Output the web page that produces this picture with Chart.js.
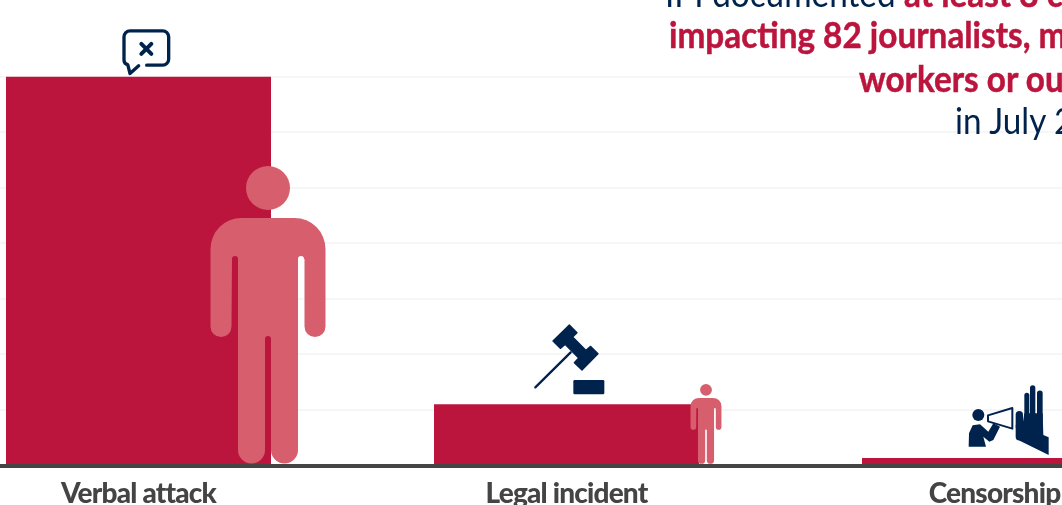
<!DOCTYPE html>
<html>
<head>
<meta charset="utf-8">
<script src="https://cdn.jsdelivr.net/npm/chart.js@4"></script>
<style>
html,body{margin:0;padding:0;width:1062px;height:505px;overflow:hidden;background:#fff}
#wrap{position:absolute;left:-100px;top:0;width:1500px;height:505px}
.ln{position:absolute;white-space:nowrap;font:400 36px Lato,sans-serif;color:#00234d;line-height:43px;transform:scaleX(.925);transform-origin:left center}
.ln b{font-weight:700;color:#bb153d;-webkit-text-stroke:.5px #bb153d}
</style>
</head>
<body>
<div id="wrap"><canvas id="c" width="1500" height="505"></canvas></div>
<div class="ln" style="left:665px;top:-28px">IPI documented <b>at least 8 cases</b></div>
<div class="ln" style="left:669px;top:13px"><b>impacting 82 journalists, media</b></div>
<div class="ln" style="left:859px;top:57px"><b>workers or outlets</b></div>
<div class="ln" style="left:955px;top:99px">in July 2022</div>
<script>
const categories = ['Verbal attack', 'Legal incident', 'Censorship'];
const incidents = [70, 11, 1];
const yTicksMax = 70;
const yTickStep = 10;

const RED = '#bb153d', FIG = '#d75e6c', NAVY = '#00234d';

function bubble(ctx){ // zoom coordinates
  ctx.translate(-138.5,-76); ctx.scale(1/3,1/3);
  ctx.lineWidth=10; ctx.strokeStyle=NAVY; ctx.lineCap='round'; ctx.lineJoin='round';
  ctx.beginPath();
  ctx.moveTo(440,194); ctx.lineTo(488,194); ctx.arcTo(506,194,506,176,18);
  ctx.lineTo(506,110); ctx.arcTo(506,91,488,91,18); ctx.lineTo(390,91);
  ctx.arcTo(372,91,372,110,18); ctx.lineTo(372,176); ctx.arcTo(372,190,382,192,14);
  ctx.lineTo(390,219); ctx.lineTo(416,196); ctx.stroke();
  ctx.lineWidth=12; ctx.beginPath();
  ctx.moveTo(424,130); ctx.lineTo(454,160); ctx.moveTo(454,130); ctx.lineTo(424,160); ctx.stroke();
}
function gavel(ctx){
  ctx.translate(-146.5,-94); ctx.scale(1/3,1/3);
  ctx.fillStyle=NAVY; ctx.strokeStyle=NAVY; ctx.lineJoin='round'; ctx.lineCap='round';
  ctx.lineWidth=4;
  const p=[[448,44],[471,67],[458,80],[498,120],[512,108],[534,130],[486,179],[463,157],[476,143],[435,102],[421,114],[399,92]];
  ctx.beginPath(); p.forEach((q,i)=>i?ctx.lineTo(q[0],q[1]):ctx.moveTo(q[0],q[1])); ctx.closePath(); ctx.fill(); ctx.stroke();
  ctx.lineWidth=7; ctx.beginPath(); ctx.moveTo(346,231); ctx.lineTo(452,126); ctx.stroke();
  ctx.beginPath(); ctx.roundRect(460,209,93,43,4); ctx.fill();
}
function censor(ctx){
  ctx.translate(-34.5,-78); ctx.scale(1/3,1/3);
  ctx.fillStyle=NAVY; ctx.strokeStyle=NAVY; ctx.lineJoin='round'; ctx.lineCap='round';
  ctx.beginPath(); ctx.arc(55,105,18,0,Math.PI*2); ctx.fill();
  const b=[[26,200],[27,160],[38,136],[60,133],[85,155],[100,130],[120,140],[100,180],[88,185],[70,170],[78,200]];
  ctx.beginPath(); b.forEach((q,i)=>i?ctx.lineTo(q[0],q[1]):ctx.moveTo(q[0],q[1])); ctx.closePath(); ctx.fill();
  ctx.lineWidth=6; ctx.beginPath(); ctx.moveTo(84,106); ctx.lineTo(157,84); ctx.lineTo(157,146); ctx.lineTo(84,124); ctx.closePath(); ctx.stroke();
  // hand
  const f=[[178,170,104,22],[200.5,120,46,15],[218,120,24,16],[239.5,120,40,17]];
  f.forEach(a=>{ctx.lineWidth=a[3]; ctx.beginPath(); ctx.moveTo(a[0],a[1]); ctx.lineTo(a[0],a[2]); ctx.stroke();});
  const h=[[167,135],[189,125],[193,100],[248,100],[250,165],[266,172],[266,225],[170,178]];
  ctx.beginPath(); h.forEach((q,i)=>i?ctx.lineTo(q[0],q[1]):ctx.moveTo(q[0],q[1])); ctx.closePath(); ctx.fill();
}
function figure(ctx,s){ // origin: feet centre; reference size 298 high
  ctx.scale(s,s); ctx.fillStyle=FIG;
  ctx.beginPath(); ctx.arc(0,-276,22,0,Math.PI*2); ctx.fill();
  ctx.beginPath();
  ctx.moveTo(-27,-246); ctx.lineTo(27,-246);
  ctx.arcTo(57.5,-246,57.5,-214,31); ctx.lineTo(57.5,-137.5);
  ctx.arc(47,-137.5,10.5,0,Math.PI); ctx.lineTo(36.5,-205);
  ctx.arc(33,-205,3,0,Math.PI,true); ctx.lineTo(30,-14);
  ctx.arc(16.5,-14,13.5,0,Math.PI); ctx.lineTo(3,-125);
  ctx.arc(0,-125,3,0,Math.PI,true); ctx.lineTo(-3,-14);
  ctx.arc(-16.5,-14,13.5,0,Math.PI); ctx.lineTo(-30,-205);
  ctx.arc(-33,-205,3,0,Math.PI,true); ctx.lineTo(-36.5,-137.5);
  ctx.arc(-47,-137.5,10.5,0,Math.PI); ctx.lineTo(-57.5,-214);
  ctx.arcTo(-57.5,-246,-27,-246,31); ctx.closePath(); ctx.fill();
}
const topIcons=[bubble,gavel,censor];
const figureOffsets=[129.5,139.5,139.5];

const iconPlugin={id:'icons',
beforeDraw(chart){chart.ctx.letterSpacing='-0.8px';},
afterDatasetsDraw(chart){
  const ctx=chart.ctx, meta=chart.getDatasetMeta(0), base=chart.scales.y.getPixelForValue(0);
  meta.data.forEach((bar,i)=>{
    ctx.save(); ctx.translate(bar.x,bar.y); topIcons[i](ctx); ctx.restore();
    ctx.save(); ctx.translate(bar.x+figureOffsets[i],base-1.5);
    figure(ctx,Math.pow(incidents[i]/incidents[0],0.71)); ctx.restore();
  });
}};

new Chart(document.getElementById('c'),{
  type:'bar',
  data:{labels:categories,datasets:[{data:incidents,backgroundColor:RED,barPercentage:1,categoryPercentage:265/428,minBarLength:7.5}]},
  plugins:[iconPlugin],
  options:{
    responsive:false,animation:false,
    layout:{padding:{left:24.5,right:191.5,top:76.5,bottom:0}},
    plugins:{legend:{display:false},tooltip:{enabled:false}},
    scales:{
      x:{
        grid:{display:false},
        border:{display:true,color:'#444444',width:4,z:1},
        ticks:{color:'#444444',font:{family:'Lato',weight:'900',size:28},padding:4,maxRotation:0,autoSkip:false},
        afterFit(s){s.height=39.5;}
      },
      y:{
        min:0,max:yTicksMax,
        grid:{color:'#f6f6f6',lineWidth:2,drawTicks:false},
        border:{display:false},
        ticks:{display:false,stepSize:yTickStep},
        afterFit(s){s.width=0;}
      }
    }
  }
});
</script>
</body>
</html>
